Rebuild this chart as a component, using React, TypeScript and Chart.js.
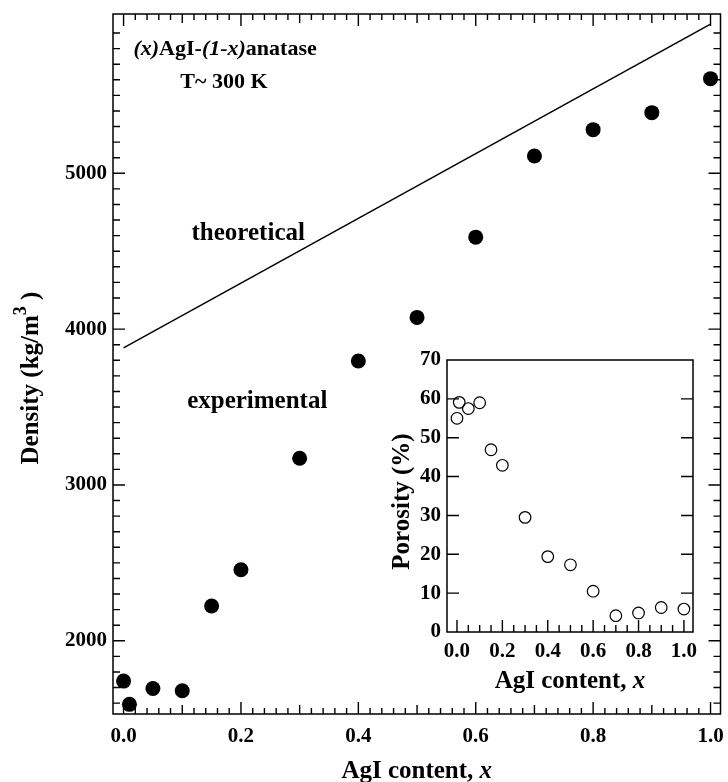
import React, { useEffect, useRef } from "react";
import { Chart, registerables } from "chart.js";

Chart.register(...registerables);

const FONT_FAMILY = '"Liberation Serif", "Times New Roman", Times, serif';

// ---- Data ----
const agiContent = [0.0, 0.01, 0.05, 0.1, 0.15, 0.2, 0.3, 0.4, 0.5, 0.6, 0.7, 0.8, 0.9, 1.0];
const densityExperimental = [1741, 1592, 1694, 1679, 2223, 2456, 3171, 3795, 4075, 4590, 5111, 5280, 5389, 5607];
const theoreticalContent = [0.0, 1.0];
const densityTheoretical = [3880, 5957];
const porosityPercent = [55.0, 59.1, 57.5, 59.0, 46.9, 42.9, 29.5, 19.4, 17.3, 10.5, 4.2, 4.9, 6.3, 5.9];

const contentTicks = [0.0, 0.2, 0.4, 0.6, 0.8, 1.0];
const densityTicks = [2000, 3000, 4000, 5000];
const porosityTicks = [0, 10, 20, 30, 40, 50, 60, 70];

type Seg = { t: string; i?: boolean; sup?: boolean };

const mainAnnotations: { segs: Seg[]; x: number; y: number; size: number }[] = [
  { segs: [{ t: "(x)", i: true }, { t: "AgI-" }, { t: "(1-x)", i: true }, { t: "anatase" }], x: 0.173, y: 5759, size: 22 },
  { segs: [{ t: "T~ 300 K" }], x: 0.171, y: 5547, size: 22 },
  { segs: [{ t: "theoretical" }], x: 0.2124, y: 4572, size: 25 },
  { segs: [{ t: "experimental" }], x: 0.2278, y: 3494, size: 25 },
];

const xTitle: Seg[] = [{ t: "AgI content, " }, { t: "x", i: true }];
const densityTitle: Seg[] = [{ t: "Density (kg/m" }, { t: "3", sup: true }, { t: " )" }];
const porosityTitle: Seg[] = [{ t: "Porosity (%)" }];

function segFont(s: Seg, size: number) {
  const sz = s.sup ? Math.round(size * 0.7) : size;
  return `${s.i ? "italic " : ""}bold ${sz}px ${FONT_FAMILY}`;
}

function drawRich(ctx: CanvasRenderingContext2D, segs: Seg[], x: number, y: number, size: number) {
  ctx.save();
  ctx.fillStyle = "#000";
  ctx.textAlign = "left";
  ctx.textBaseline = "alphabetic";
  const widths = segs.map((s) => {
    ctx.font = segFont(s, size);
    return ctx.measureText(s.t).width;
  });
  const total = widths.reduce((a, b) => a + b, 0);
  let cx = x - total / 2;
  segs.forEach((s, k) => {
    ctx.font = segFont(s, size);
    ctx.fillText(s.t, cx, s.sup ? y - size * 0.48 : y);
    cx += widths[k];
  });
  ctx.restore();
}

const tickFont = { family: FONT_FAMILY, size: 21, weight: "bold" as const };

function zeroPad(s: any) {
  s.paddingLeft = 0;
  s.paddingRight = 0;
  s.paddingTop = 0;
  s.paddingBottom = 0;
}

const mainDecor = {
  id: "mainDecor",
  beforeDatasetsDraw(chart: any) {
    const { ctx, chartArea: a, scales } = chart;
    const xs = scales.x;
    const ys = scales.y;
    ctx.save();
    ctx.strokeStyle = "#000";
    ctx.lineWidth = 1.5;
    ctx.strokeRect(a.left, a.top, a.right - a.left, a.bottom - a.top);
    ctx.lineWidth = 1.4;
    ctx.beginPath();
    for (let k = 0; k <= 50; k++) {
      const px = xs.getPixelForValue(k / 50);
      if (px < a.left + 3 || px > a.right - 3) continue;
      const len = k % 10 === 0 ? 12 : k % 5 === 0 ? 9 : 6;
      ctx.moveTo(px, a.bottom);
      ctx.lineTo(px, a.bottom - len);
      ctx.moveTo(px, a.top);
      ctx.lineTo(px, a.top + len);
    }
    for (let v = 1600; v <= 6000; v += 100) {
      const py = ys.getPixelForValue(v);
      if (py < a.top + 5 || py > a.bottom - 3) continue;
      const len = v % 1000 === 0 ? 12 : 7;
      ctx.moveTo(a.left, py);
      ctx.lineTo(a.left + len, py);
      ctx.moveTo(a.right, py);
      ctx.lineTo(a.right - len, py);
    }
    ctx.stroke();
    ctx.restore();
  },
  afterDraw(chart: any) {
    const { ctx, chartArea: a, scales } = chart;
    mainAnnotations.forEach((an) => {
      drawRich(ctx, an.segs, scales.x.getPixelForValue(an.x), scales.y.getPixelForValue(an.y), an.size);
    });
    drawRich(ctx, xTitle, (a.left + a.right) / 2, a.bottom + 64, 25);
    ctx.save();
    ctx.translate(a.left - 75, (a.top + a.bottom) / 2 + 14);
    ctx.rotate(-Math.PI / 2);
    drawRich(ctx, densityTitle, 0, 0, 25);
    ctx.restore();
  },
};

const insetDecor = {
  id: "insetDecor",
  beforeDatasetsDraw(chart: any) {
    const { ctx, chartArea: a, scales } = chart;
    const xs = scales.x;
    const ys = scales.y;
    ctx.save();
    ctx.strokeStyle = "#000";
    ctx.lineWidth = 1.5;
    ctx.strokeRect(a.left, a.top, a.right - a.left, a.bottom - a.top);
    ctx.lineWidth = 1.4;
    ctx.beginPath();
    for (let k = 0; k <= 20; k++) {
      const px = xs.getPixelForValue(k / 20);
      const len = k % 4 === 0 ? 12 : 7;
      ctx.moveTo(px, a.bottom);
      ctx.lineTo(px, a.bottom - len);
    }
    porosityTicks.forEach((v) => {
      const py = ys.getPixelForValue(v);
      if (py < a.top + 3 || py > a.bottom - 3) return;
      ctx.moveTo(a.left, py);
      ctx.lineTo(a.left + 12, py);
      ctx.moveTo(a.right, py);
      ctx.lineTo(a.right - 12, py);
    });
    ctx.stroke();
    ctx.restore();
  },
  afterDraw(chart: any) {
    const { ctx, chartArea: a } = chart;
    drawRich(ctx, xTitle, (a.left + a.right) / 2, a.bottom + 56, 25);
    ctx.save();
    ctx.translate(a.left - 38, (a.top + a.bottom) / 2 + 5.5);
    ctx.rotate(-Math.PI / 2);
    drawRich(ctx, porosityTitle, 0, 0, 25);
    ctx.restore();
  },
};

export default function App() {
  const mainRef = useRef<HTMLCanvasElement | null>(null);
  const insetRef = useRef<HTMLCanvasElement | null>(null);

  useEffect(() => {
    if (!mainRef.current || !insetRef.current) return;

    const main = new Chart(mainRef.current, {
      type: "scatter",
      data: {
        datasets: [
          {
            label: "theoretical",
            data: theoreticalContent.map((x, k) => ({ x, y: densityTheoretical[k] })),
            showLine: true,
            borderColor: "#000",
            borderWidth: 1.5,
            pointRadius: 0,
            fill: false,
          },
          {
            label: "experimental",
            data: agiContent.map((x, k) => ({ x, y: densityExperimental[k] })),
            showLine: false,
            backgroundColor: "#000",
            borderColor: "#000",
            borderWidth: 0,
            pointRadius: 7.5,
          },
        ],
      },
      options: {
        responsive: false,
        animation: false,
        devicePixelRatio: 1,
        layout: { padding: { left: 0, top: 14, right: 4, bottom: 0 } },
        plugins: { legend: { display: false }, tooltip: { enabled: false } },
        scales: {
          x: {
            type: "linear",
            min: -0.018,
            max: 1.017,
            afterFit: (s: any) => {
              s.height = 68;
              zeroPad(s);
            },
            afterBuildTicks: (s: any) => {
              s.ticks = contentTicks.map((v) => ({ value: v }));
            },
            ticks: {
              callback: (v: any) => Number(v).toFixed(1),
              font: tickFont,
              color: "#000",
              padding: 10,
              maxRotation: 0,
              autoSkip: false,
            },
            grid: { display: false, drawTicks: false },
            border: { display: false },
          },
          y: {
            type: "linear",
            min: 1530,
            max: 6022,
            afterFit: (s: any) => {
              s.width = 113;
              zeroPad(s);
            },
            afterBuildTicks: (s: any) => {
              s.ticks = densityTicks.map((v) => ({ value: v }));
            },
            ticks: {
              callback: (v: any) => String(v),
              font: tickFont,
              color: "#000",
              padding: 6,
              autoSkip: false,
            },
            grid: { display: false, drawTicks: false },
            border: { display: false },
          },
        },
      },
      plugins: [mainDecor],
    } as any);

    const inset = new Chart(insetRef.current, {
      type: "scatter",
      data: {
        datasets: [
          {
            label: "porosity",
            data: agiContent.map((x, k) => ({ x, y: porosityPercent[k] })),
            showLine: false,
            backgroundColor: "rgba(255,255,255,0)",
            borderColor: "#000",
            borderWidth: 1.2,
            pointRadius: 5.8,
          },
        ],
      },
      options: {
        responsive: false,
        animation: false,
        devicePixelRatio: 1,
        layout: { padding: { left: 0, top: 15, right: 17, bottom: 0 } },
        plugins: { legend: { display: false }, tooltip: { enabled: false } },
        scales: {
          x: {
            type: "linear",
            min: -0.044,
            max: 1.04,
            afterFit: (s: any) => {
              s.height = 68;
              zeroPad(s);
            },
            afterBuildTicks: (s: any) => {
              s.ticks = contentTicks.map((v) => ({ value: v }));
            },
            ticks: {
              callback: (v: any) => Number(v).toFixed(1),
              font: tickFont,
              color: "#000",
              padding: 7,
              maxRotation: 0,
              autoSkip: false,
            },
            grid: { display: false, drawTicks: false },
            border: { display: false },
          },
          y: {
            type: "linear",
            min: 0,
            max: 70,
            afterFit: (s: any) => {
              s.width = 77;
              zeroPad(s);
            },
            afterBuildTicks: (s: any) => {
              s.ticks = porosityTicks.map((v) => ({ value: v }));
            },
            ticks: {
              callback: (v: any) => String(v),
              font: tickFont,
              color: "#000",
              padding: 6,
              autoSkip: false,
            },
            grid: { display: false, drawTicks: false },
            border: { display: false },
          },
        },
      },
      plugins: [insetDecor],
    } as any);

    return () => {
      main.destroy();
      inset.destroy();
    };
  }, []);

  return (
    <div style={{ position: "fixed", left: 0, top: 0, width: 728, height: 782, background: "#fff" }}>
      <canvas ref={mainRef} width={728} height={782} style={{ position: "absolute", left: 0, top: 0, width: 728, height: 782 }} />
      <canvas ref={insetRef} width={340} height={355} style={{ position: "absolute", left: 370, top: 345, width: 340, height: 355 }} />
    </div>
  );
}
